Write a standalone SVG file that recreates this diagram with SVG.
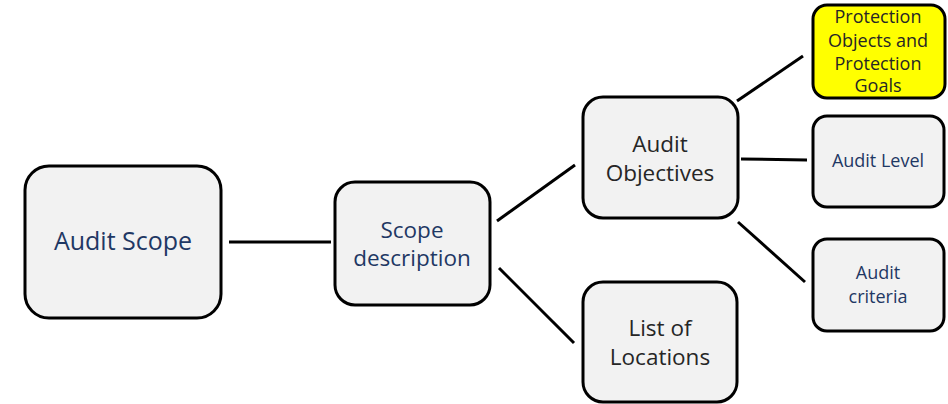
<svg xmlns="http://www.w3.org/2000/svg" width="948" height="404" viewBox="0 0 948 404">
  <style>
    .box { fill: #F2F2F2; stroke: #000; stroke-width: 3; }
    .hl { fill: #FFFF00; }
    .link { stroke: #000; stroke-width: 3; fill: none; }
    text { font-family: "Open Sans", "Liberation Sans", sans-serif; text-anchor: middle; }
    .navy { fill: #1F3864; }
    .gray { fill: #262626; }
    .big { font-size: 25px; }
    .mid { font-size: 22.5px; }
    .small { font-size: 18px; }
  </style>
  <rect width="948" height="404" fill="#fff"/>

  <g id="connectors">
    <line class="link" x1="229" y1="242" x2="331" y2="242"/>
    <line class="link" x1="497" y1="221" x2="575" y2="165"/>
    <line class="link" x1="499" y1="268" x2="574" y2="343"/>
    <line class="link" x1="737" y1="101" x2="803" y2="56"/>
    <line class="link" x1="741" y1="159" x2="807" y2="160"/>
    <line class="link" x1="738" y1="222" x2="805" y2="282"/>
  </g>

  <g id="audit-scope">
    <rect class="box" x="25" y="166" width="196" height="152" rx="24"/>
    <text class="navy big" x="123" y="250">Audit Scope</text>
  </g>

  <g id="scope-description">
    <rect class="box" x="335" y="182" width="155" height="123" rx="20"/>
    <text class="navy mid" x="412" y="238">Scope</text>
    <text class="navy mid" x="412" y="266">description</text>
  </g>

  <g id="audit-objectives">
    <rect class="box" x="583" y="97" width="155" height="121" rx="20"/>
    <text class="gray mid" x="660" y="152">Audit</text>
    <text class="gray mid" x="660" y="181">Objectives</text>
  </g>

  <g id="list-of-locations">
    <rect class="box" x="583" y="282" width="154" height="120" rx="20"/>
    <text class="gray mid" x="660" y="336">List of</text>
    <text class="gray mid" x="660" y="365">Locations</text>
  </g>

  <g id="protection-objects">
    <rect class="box hl" x="813" y="5" width="132" height="93" rx="14"/>
    <text class="gray small" x="878" y="23">Protection</text>
    <text class="gray small" x="878" y="47">Objects and</text>
    <text class="gray small" x="878" y="70">Protection</text>
    <text class="gray small" x="878" y="92">Goals</text>
  </g>

  <g id="audit-level">
    <rect class="box" x="813" y="116" width="131" height="91" rx="14"/>
    <text class="navy small" x="878" y="167">Audit Level</text>
  </g>

  <g id="audit-criteria">
    <rect class="box" x="813" y="239" width="131" height="92" rx="14"/>
    <text class="navy small" x="878" y="279">Audit</text>
    <text class="navy small" x="878" y="303">criteria</text>
  </g>
</svg>
